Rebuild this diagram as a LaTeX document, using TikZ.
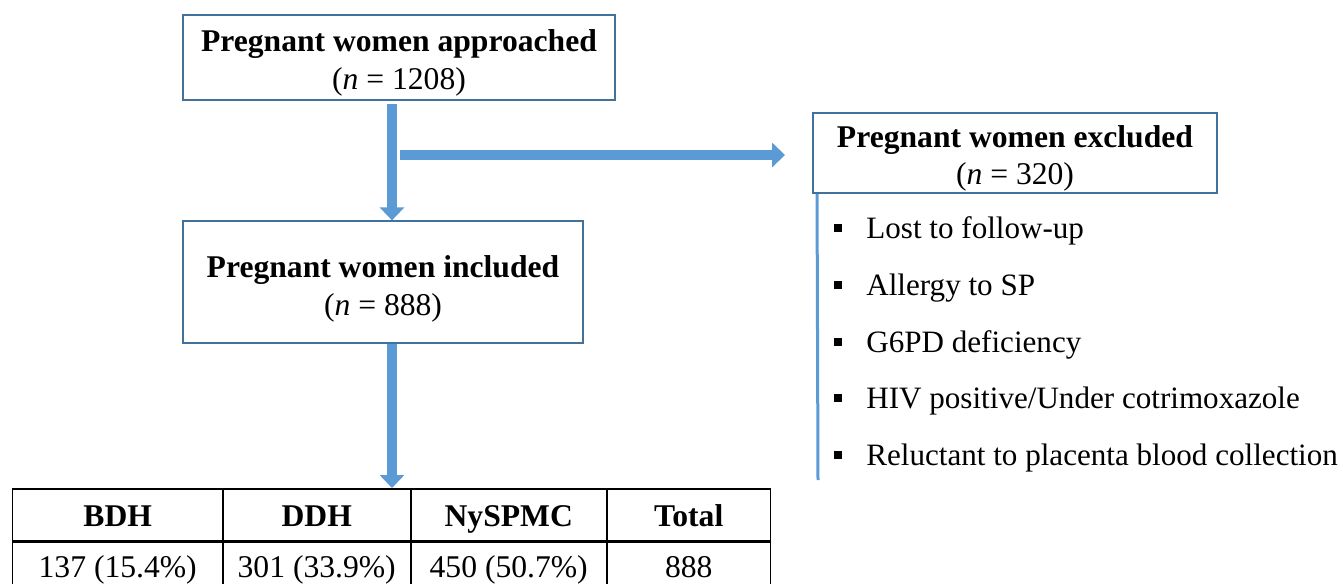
\documentclass[tikz,border=0pt]{standalone}
\usepackage{fontspec}
\setmainfont{Liberation Serif}
\usetikzlibrary{arrows.meta}
\definecolor{myArrowBlue}{RGB}{91, 155, 213}
\definecolor{myBoxBlue}{RGB}{65, 113, 156}
\newcommand{\toppad}{\rule{0pt}{18.5pt}}

\begin{document}
\begin{tikzpicture}[x=0.02cm, y=-0.02cm,
		every node/.style={font=\fontsize{18}{21.5}\selectfont},
		stagebox/.style={draw=myBoxBlue, line width=0.04cm, align=center, inner sep=0pt},
		blockarrow/.style={myArrowBlue, line width=0.21cm, -{Triangle[width=0.48cm, length=0.26cm]}},
		cell/.style={draw, line width=0.03cm, anchor=north west, inner sep=0pt, minimum height=1.04cm, text height=17pt, text depth=4pt},
		valcell/.style={cell, minimum height=1.08cm, text height=13pt},
		bulletmark/.style={fill=black, minimum size=0.16cm, inner sep=0pt},
		reason/.style={anchor=west, inner sep=0pt, font=\fontsize{17.7}{21}\selectfont}]
			\useasboundingbox (0,0) rectangle (1343,583);
			\clip (0,0) rectangle (1343,583);

			\draw (399,57.5) node[stagebox, minimum width=8.64cm, minimum height=1.7cm] (top) {\toppad\textbf{Pregnant women approached}\\(\textit{n} = 1208)};
			\draw (383,282) node[stagebox, line width=0.025cm, minimum width=8cm, minimum height=2.44cm] (inc) {\rule{0pt}{20pt}\textbf{Pregnant women included}\\(\textit{n} = 888)};
			\draw (1015,153) node[stagebox, minimum width=8.08cm, minimum height=1.6cm] (exc) {\toppad\textbf{Pregnant women excluded}\\(\textit{n} = 320)};

			\draw (12,488) node[cell, minimum width=4.2cm] (h1) {\textbf{BDH}};
			\draw (222,488) node[cell, minimum width=3.76cm] (h2) {\textbf{DDH}};
			\draw (410,488) node[cell, minimum width=3.92cm] (h3) {\textbf{NySPMC}};
			\draw (606,488) node[cell, minimum width=3.28cm] (h4) {\textbf{Total}};
			\draw (h1.south west) node[valcell, minimum width=4.2cm] (v1) {137 (15.4\%)};
			\draw (h2.south west) node[valcell, minimum width=3.76cm] (v2) {301 (33.9\%)};
			\draw (h3.south west) node[valcell, minimum width=3.92cm] (v3) {450 (50.7\%)};
			\draw (h4.south west) node[valcell, minimum width=3.28cm] (v4) {888};

			\coordinate (s1) at (392,104);
			\coordinate (sp) at (400,155);
			\coordinate (s2) at (392,344);
			\draw[blockarrow] (s1) -- (s1 |- inc.north);
			\draw[blockarrow, shorten >=0.54cm] (sp) -- (sp -| exc.west);
			\draw[blockarrow] (s2) -- (s2 |- h2.north);

			\coordinate (l1) at ([xshift=0.1cm]exc.south west);
			\coordinate (l2) at (818,480);
			\draw[myArrowBlue, line width=0.06cm] (l1) -- (l2);

			\draw (838,228) node[bulletmark] (b1) {} (866,231) node[reason] (r1) {Lost to follow-up};
			\draw (838,285) node[bulletmark] (b2) {} (866,288) node[reason] (r2) {Allergy to SP};
			\draw (838,342) node[bulletmark] (b3) {} (866,345) node[reason] (r3) {G6PD deficiency};
			\draw (838,398) node[bulletmark] (b4) {} (866,401) node[reason] (r4) {HIV positive/Under cotrimoxazole};
			\draw (838,455) node[bulletmark] (b5) {} (866,458) node[reason] (r5) {Reluctant to placenta blood collection};
		\end{tikzpicture}
\end{document}
